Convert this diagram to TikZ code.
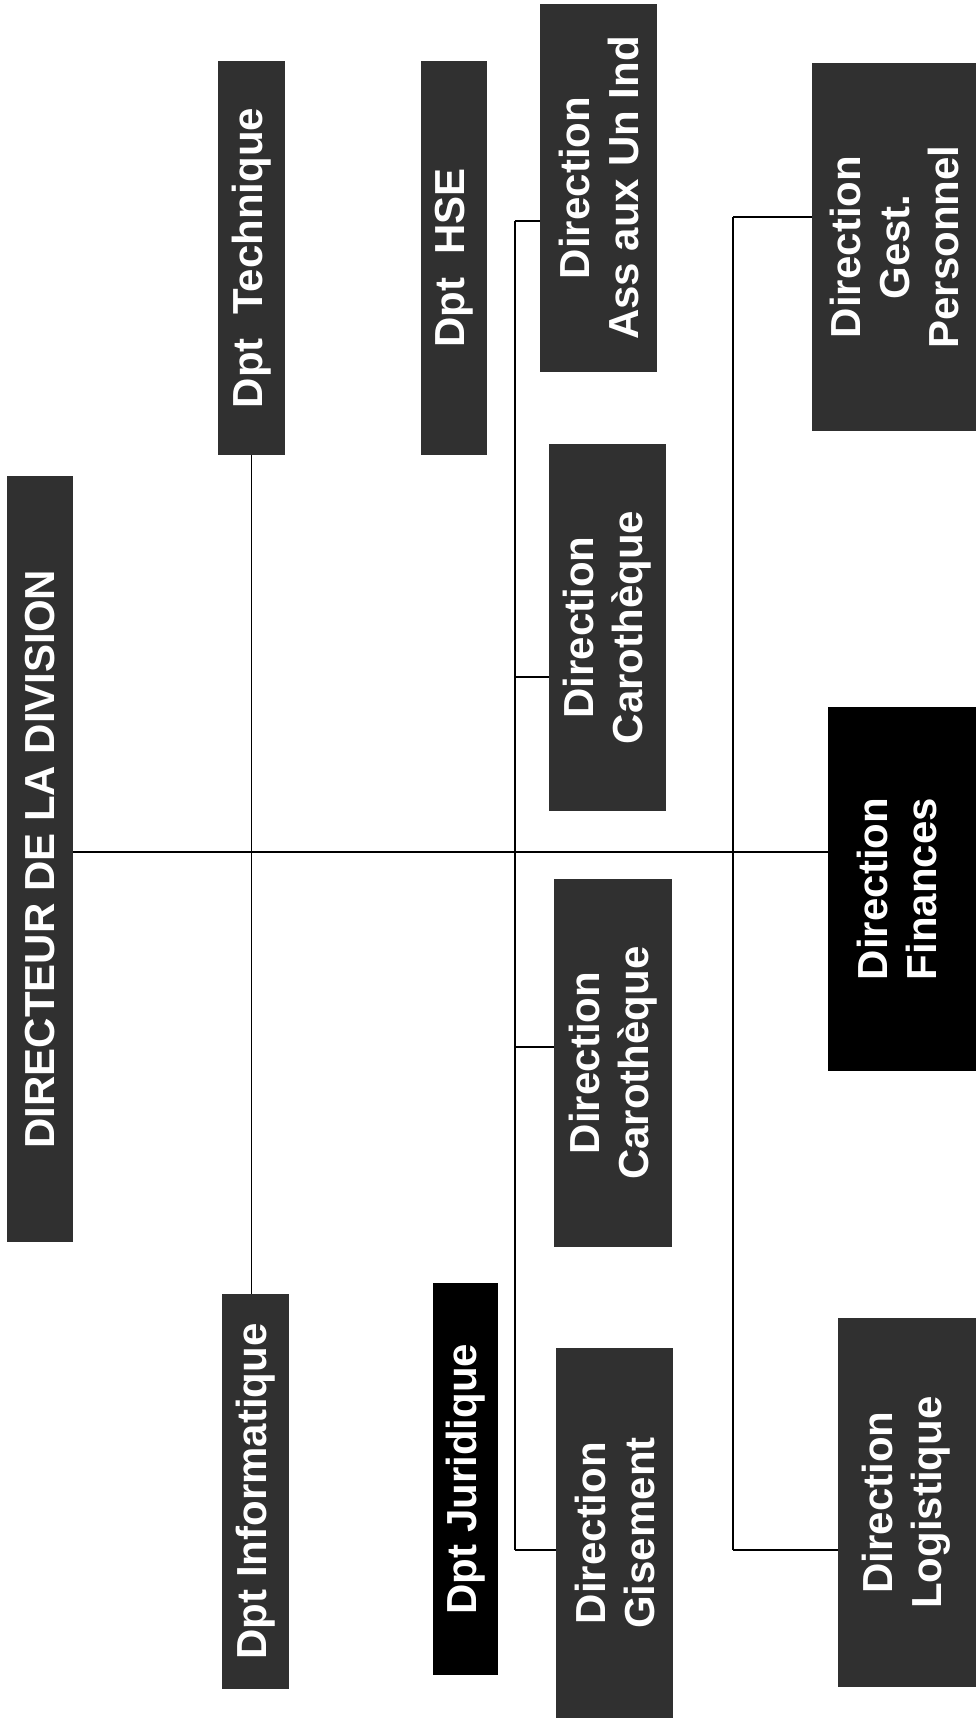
\documentclass[tikz,border=0pt]{standalone}
\usepackage{fontspec}
\setmainfont{Liberation Sans}
\definecolor{boxgray}{HTML}{303030}
\begin{document}
\begin{tikzpicture}[x=1pt,y=-1pt,
  unit/.style={rotate=90, fill=boxgray, text=white, inner sep=0pt, align=center,
    font=\bfseries\fontsize{42}{49}\selectfont},
  blk/.style={fill=black},
  link/.style={draw=black, line width=1.4pt}]
\useasboundingbox (0,0) rectangle (976,1718);
\fill[white] (0,0) rectangle (976,1718);
\renewcommand{\arraystretch}{1}
% nodes
\node[unit, minimum width=766pt, minimum height=66pt] (dir) at (40,859) {DIRECTEUR DE LA DIVISION};
\node[unit, minimum width=394pt, minimum height=67pt] (tech) at (251.5,258) {Dpt\ \ Technique};
\node[unit, minimum width=395pt, minimum height=67pt] (info) at (255.5,1491.5) {Dpt Informatique};
\node[unit, minimum width=394pt, minimum height=66pt] (hse) at (454,258) {Dpt\ \ HSE};
\node[unit, blk, minimum width=392pt, minimum height=65pt] (jur) at (465.5,1479) {Dpt Juridique};
\node[unit, minimum width=368pt, minimum height=117pt] (ass) at (598.5,188) {Direction\\Ass aux Un Ind};
\node[unit, minimum width=367pt, minimum height=117pt] (car1) at (607.5,627.5) {Direction\\Carothèque};
\node[unit, minimum width=368pt, minimum height=118pt] (car2) at (613,1063) {Direction\\Carothèque};
\node[unit, minimum width=370pt, minimum height=117pt] (gis) at (614.5,1533) {Direction\\Gisement};
\node[unit, minimum width=368pt, minimum height=164pt] (gest) at (894,247) {Direction\\Gest.\\Personnel};
\node[unit, blk, minimum width=364pt, minimum height=148pt] (fin) at (902,889)
  {\raisebox{16pt}{\begin{tabular}{@{}c@{}}Direction\\Finances\end{tabular}}};
\node[unit, minimum width=369pt, minimum height=138pt] (log) at (907,1502.5)
  {\raisebox{11pt}{\begin{tabular}{@{}c@{}}Direction\\Logistique\end{tabular}}};
% connectors
\coordinate (m) at (0,852);
\draw[link] (dir.south |- m) -- (fin.north |- m);
\draw[link] (tech.west) -- (tech.west |- info.east);
\coordinate (a1) at (515,221);
\coordinate (a2) at (515,677);
\coordinate (a3) at (515,1047);
\coordinate (a4) at (515,1550);
\draw[link] (a1) -- (a4);
\draw[link] (a1) -- (a1 -| ass.north);
\draw[link] (a2) -- (a2 -| car1.north);
\draw[link] (a3) -- (a3 -| car2.north);
\draw[link] (a4) -- (a4 -| gis.north);
\coordinate (b1) at (733,217);
\coordinate (b2) at (733,1550);
\draw[link] (b1) -- (b2);
\draw[link] (b1) -- (b1 -| gest.north);
\draw[link] (b2) -- (b2 -| log.north);
\end{tikzpicture}
\end{document}
